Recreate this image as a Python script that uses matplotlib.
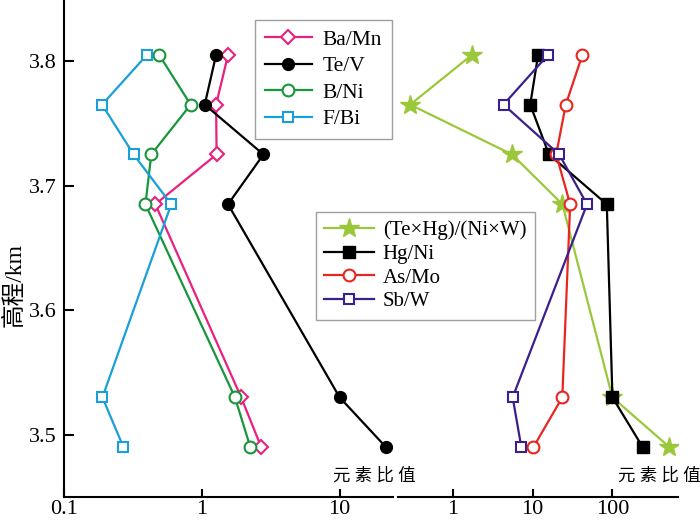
import numpy as np
import matplotlib
matplotlib.use('Agg')
import matplotlib.pyplot as plt
from matplotlib.ticker import NullLocator

# elevation (km) of the six samples
elev = [3.805, 3.765, 3.725, 3.685, 3.53, 3.49]

# left panel ratios
ba_mn = [1.55, 1.27, 1.28, 0.46, 1.93, 2.7]
te_v = [1.27, 1.05, 2.8, 1.55, 10.0, 21.7]
b_ni = [0.49, 0.83, 0.43, 0.39, 1.74, 2.25]
f_bi = [0.40, 0.189, 0.32, 0.60, 0.19, 0.27]

# right panel ratios
tehg_niw = [1.73, 0.29, 5.5, 23.6, 100, 520]
hg_ni = [11.7, 9.3, 16, 85, 100, 240]
as_mo = [42, 26, 19.7, 29.5, 23.5, 10.2]
sb_w = [15.6, 4.3, 21.5, 48, 5.6, 7.2]

left_ticks = [0.1, 1, 10]
right_ticks = [1, 10, 100]

plt.rcParams['font.family'] = ['Liberation Serif', 'Noto Sans CJK SC']
plt.rcParams['font.size'] = 16

fig = plt.figure(figsize=(7, 5.21), dpi=100)
ax1 = fig.add_axes([64/700, 1-497/521, (393-64)/700, 497/521])
ax2 = fig.add_axes([398/700, 1-497/521, (678-398)/700, 497/521])

lw = 1.6
ms = 8.5
ax1.plot(ba_mn, elev, color='#e8217f', lw=lw, marker='D', ms=ms-1.5, mfc='white', mew=1.5, label='Ba/Mn')
ax1.plot(te_v, elev, color='black', lw=lw, marker='o', ms=ms, mfc='black', label='Te/V')
ax1.plot(b_ni, elev, color='#17963c', lw=lw, marker='o', ms=ms, mfc='white', mew=1.5, label='B/Ni')
ax1.plot(f_bi, elev, color='#1a9fd9', lw=lw, marker='s', ms=ms-1, mfc='white', mew=1.5, label='F/Bi')

l1 = ax2.plot(tehg_niw, elev, color='#9bc83a', lw=lw, marker='*', ms=ms+6, mfc='#9bc83a', label='(Te×Hg)/(Ni×W)')
l2 = ax2.plot(hg_ni, elev, color='black', lw=lw, marker='s', ms=ms, mfc='black', label='Hg/Ni')
l3 = ax2.plot(as_mo, elev, color='#e8261f', lw=lw, marker='o', ms=ms, mfc='white', mew=1.5, label='As/Mo')
l4 = ax2.plot(sb_w, elev, color='#3b1f8c', lw=lw, marker='s', ms=ms-1, mfc='white', mew=1.5, label='Sb/W')

for ax in (ax1, ax2):
    ax.set_xscale('log')
    ax.set_ylim(3.45, 3.849)
    ax.patch.set_visible(False)
    for s in ('top', 'right'):
        ax.spines[s].set_visible(False)
    ax.spines['bottom'].set_linewidth(1.5)
    ax.xaxis.set_minor_locator(NullLocator())
    ax.tick_params(axis='x', direction='in', length=6, width=1.5, pad=2)

ax1.set_xlim(0.1, 24.4)
ax1.set_xticks(left_ticks)
ax1.set_xticklabels(['0.1', '1', '10'])
ax1.spines['left'].set_linewidth(1.5)
ax1.set_yticks([3.5, 3.6, 3.7, 3.8])
ax1.set_yticklabels(['3.5', '3.6', '3.7', '3.8'])
ax1.tick_params(axis='y', direction='in', length=7, width=1.5, pad=5)

ax2.set_xlim(0.204, 665)
ax2.set_xticks(right_ticks)
ax2.set_xticklabels(['1', '10', '100'])
ax2.spines['left'].set_visible(False)
ax2.set_yticks([])

fig.legend(handles=ax1.get_lines(), loc='upper left', bbox_to_anchor=(255/700, 1-20/521),
           borderaxespad=0, frameon=True, fancybox=False, edgecolor='#888888', fontsize=15.5,
           handlelength=2.2, handletextpad=0.5, labelspacing=0.3, borderpad=0.45)
fig.legend(handles=l1+l2+l3+l4, loc='upper left', bbox_to_anchor=(316/700, 1-212/521),
           borderaxespad=0, frameon=True, fancybox=False, edgecolor='#888888', fontsize=15,
           handlelength=2.4, handletextpad=0.4, labelspacing=0.2, borderpad=0.4)

fig.text(15/700, 1-285/521, '高程/km', rotation=90, ha='center', va='center', fontsize=17)
fig.text(333/700, 1-476/521, '元 素 比 值', ha='left', va='center', fontsize=12.5)
fig.text(618/700, 1-476/521, '元 素 比 值', ha='left', va='center', fontsize=12.5)

fig.savefig('out.png', dpi=100)
